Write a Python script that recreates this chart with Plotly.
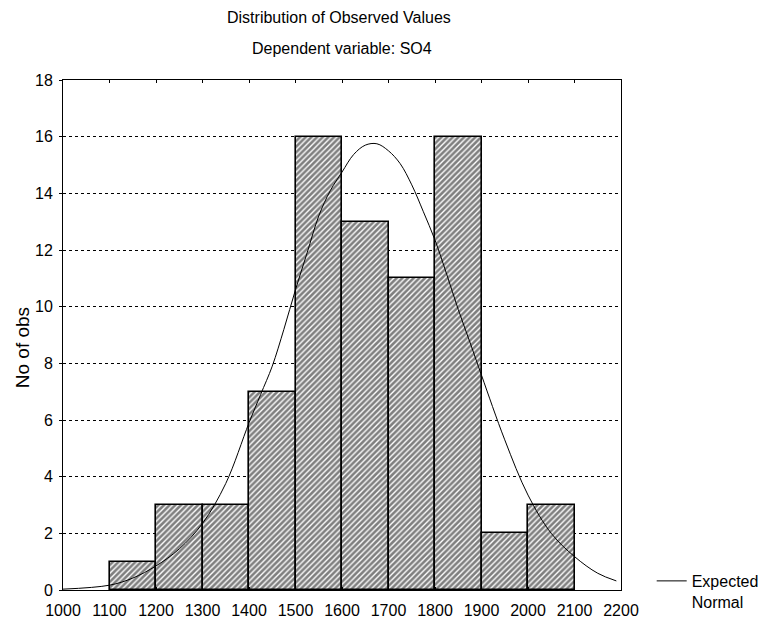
import plotly.graph_objects as go

# Histogram bins (lower edges) and counts
bin_starts = [1100, 1200, 1300, 1400, 1500, 1600, 1700, 1800, 1900, 2000]
bin_width = 100
counts = [1, 3, 3, 7, 16, 13, 11, 16, 2, 3]

# Expected normal curve
curve_x = [1000, 1100, 1150, 1200, 1250, 1300, 1350, 1400, 1425, 1450, 1475, 1500,
           1525, 1550, 1575, 1600, 1625, 1650, 1675, 1700, 1725, 1750, 1775, 1800,
           1825, 1850, 1875, 1900, 1950, 2000, 2050, 2100, 2150, 2190]
curve_y = [0.03, 0.17, 0.42, 0.85, 1.45, 2.35, 3.76, 5.9, 6.9, 7.9, 9.2, 10.6,
           11.9, 13.2, 14.1, 14.75, 15.37, 15.7, 15.75, 15.5, 15.05, 14.3, 13.35, 12.35,
           11.15, 9.9, 8.75, 7.58, 5.3, 3.35, 2.0, 1.18, 0.59, 0.32]

x_ticks = [1000, 1100, 1200, 1300, 1400, 1500, 1600, 1700, 1800, 1900, 2000, 2100, 2200]
y_ticks = [0, 2, 4, 6, 8, 10, 12, 14, 16, 18]

title_lines = ["Distribution of Observed Values", "Dependent variable: SO4"]
y_title = "No of obs"
legend_label = "Expected<br>Normal"

FONT = "Liberation Sans, Arial, sans-serif"

fig = go.Figure()
fig.add_trace(go.Bar(
    x=bin_starts, y=counts, width=bin_width, offset=0,
    marker=dict(color="white",
                line=dict(color="black", width=1.6),
                pattern=dict(shape="/", fgcolor="black", bgcolor="white",
                             size=4, solidity=0.66)),
    showlegend=False, hoverinfo="skip",
))
fig.add_trace(go.Scatter(
    x=curve_x, y=curve_y, mode="lines", line=dict(color="black", width=1, shape="spline"),
    name=legend_label, showlegend=True,
))

annotations = [
    dict(text=title_lines[0], xref="paper", yref="paper", x=0.495, y=1.1216,
         xanchor="center", yanchor="middle", showarrow=False,
         font=dict(family=FONT, size=16, color="black")),
    dict(text=title_lines[1], xref="paper", yref="paper", x=0.5, y=1.062,
         xanchor="center", yanchor="middle", showarrow=False,
         font=dict(family=FONT, size=16, color="black")),
    dict(text=y_title, xref="paper", yref="paper", x=-0.0735, y=0.476,
         xanchor="center", yanchor="middle", textangle=-90, showarrow=False,
         font=dict(family=FONT, size=19, color="black")),
]

fig.update_layout(
    width=769, height=627,
    margin=dict(l=55, r=156, t=72, b=45),
    paper_bgcolor="white", plot_bgcolor="white",
    font=dict(family=FONT, size=16, color="black"),
    bargap=0,
    annotations=annotations,
    xaxis=dict(range=[1000, 2200], tickvals=x_ticks, ticktext=[str(v) for v in x_ticks],
               showgrid=False, zeroline=False, showline=True, linecolor="black",
               linewidth=1, mirror="ticks", ticks="inside", ticklen=3,
               tickcolor="black", ticklabelstandoff=6, automargin=False,
               tickfont=dict(family=FONT, size=16)),
    yaxis=dict(range=[0, 18], tickvals=y_ticks, showgrid=True, gridcolor="black",
               griddash="dot", gridwidth=1, zeroline=False, showline=True,
               linecolor="black", linewidth=1, mirror=True, ticks="outside",
               ticklen=3, tickcolor="black", ticklabelstandoff=3, automargin=False,
               tickfont=dict(family=FONT, size=16)),
    legend=dict(x=1.055, y=0.051, xanchor="left", yanchor="top", valign="top",
                bgcolor="rgba(0,0,0,0)", font=dict(family=FONT, size=16),
                itemwidth=30, tracegroupgap=0),
)

fig.write_html("out.html")
